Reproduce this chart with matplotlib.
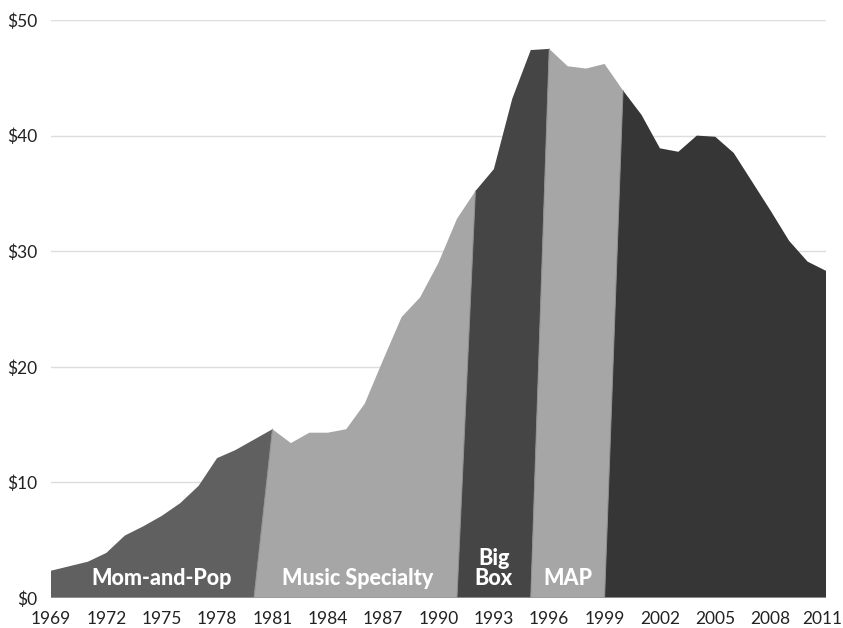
import matplotlib
matplotlib.use("Agg")
import matplotlib.pyplot as plt
import matplotlib.transforms as mtransforms

years = list(range(1969, 2012))
values = [2.36, 2.75, 3.14, 3.9, 5.4, 6.2, 7.1, 8.2, 9.7, 12.1, 12.8, 13.7,
          14.6, 13.4, 14.3, 14.3, 14.6, 16.8, 20.6, 24.3, 26.0, 29.0, 32.8,
          35.2, 37.1, 43.2, 47.4, 47.5, 46.0, 45.8, 46.2, 43.9, 41.8, 38.9,
          38.6, 40.0, 39.9, 38.5, 36.0, 33.5, 30.9, 29.1, 28.3]

segment_names = ["Mom-and-Pop", "Music Specialty", "Big\nBox", "MAP", ""]
segment_starts = [1969, 1981, 1992, 1996, 2000]
segment_ends = [1981, 1992, 1996, 2000, 2011]
segment_colors = ["#606060", "#a6a6a6", "#454545", "#a6a6a6", "#363636"]
label_x = [1975.0, 1985.6, 1993.0, 1997.0, None]

yticks = [0, 10, 20, 30, 40, 50]
ytick_labels = ["$0", "$10", "$20", "$30", "$40", "$50"]
xticks = list(range(1969, 2012, 3))

plt.rcParams['font.family'] = ['Lato', 'DejaVu Sans']

fig = plt.figure(figsize=(8.43, 6.28), dpi=100)
ax = fig.add_axes([51/843, 30/628, 775/843, 578/628])

for y in yticks[1:]:
    ax.axhline(y, color="#dddddd", lw=1.0, zorder=0)
ax.axhline(0, color="#999999", lw=1.2, zorder=3)

val = dict(zip(years, values))
n = len(segment_starts)
for i in range(n):
    s, e = segment_starts[i], segment_ends[i]
    xs = list(range(s, e + 1))
    ys = [val[x] for x in xs]
    br = e - 1 if i < n - 1 else e
    bl = s - 1 if i > 0 else s
    px = xs + [br, bl]
    py = ys + [0, 0]
    ax.fill(px, py, color=segment_colors[i], lw=0, zorder=1)
    if i > 0:
        ax.plot([s, bl], [val[s], 0], color="#8f8f8f", lw=0.7, zorder=2)

for i, name in enumerate(segment_names):
    if not name:
        continue
    ax.text(label_x[i], 0.75, name, color="white", fontsize=15.5, fontweight="black",
            ha="center", va="bottom", linespacing=0.95, zorder=4)

ax.set_xlim(1969, 2011)
ax.set_ylim(0, 50)
ax.set_yticks(yticks)
ax.set_yticklabels(ytick_labels)
ax.set_xticks(xticks)
ax.set_xticklabels([str(x) for x in xticks])
ax.tick_params(length=0, labelsize=12.5, colors="#222222")
ax.tick_params(axis="y", pad=10)
ax.tick_params(axis="x", pad=9)
for sp in ax.spines.values():
    sp.set_visible(False)

last = ax.get_xticklabels()[-1]
last.set_transform(last.get_transform() + mtransforms.ScaledTranslation(-4/100, 0, fig.dpi_scale_trans))

fig.savefig("out.png", dpi=100)
